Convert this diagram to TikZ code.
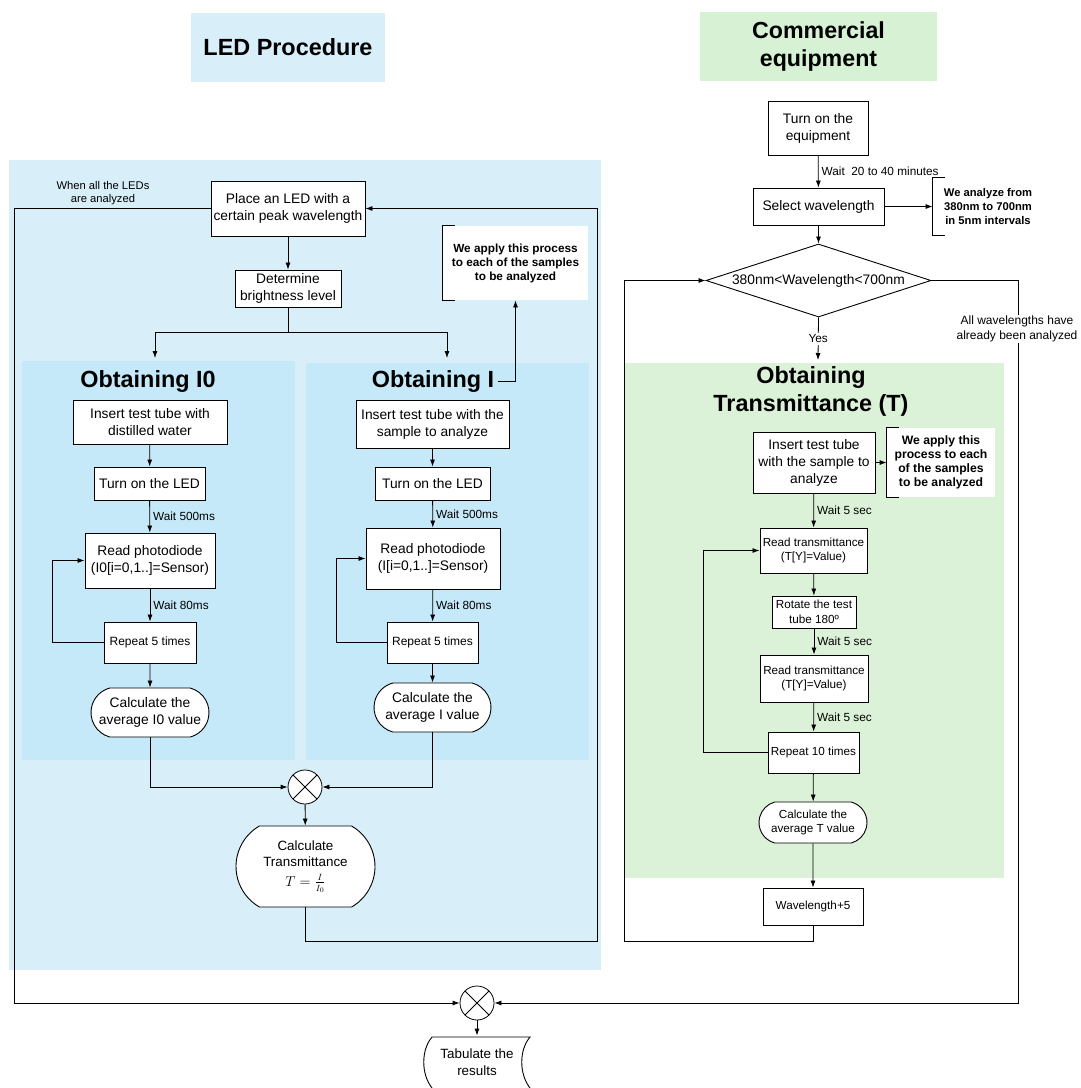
\documentclass[tikz,border=0pt]{standalone}
\usepackage{fontspec}
\setmainfont{Liberation Sans}
\usetikzlibrary{shapes.geometric,shapes.misc,arrows.meta}
\definecolor{ledbg}{RGB}{216,238,249}
\definecolor{ledin}{RGB}{198,233,249}
\definecolor{grnbg}{RGB}{220,242,216}
\definecolor{grntit}{RGB}{214,241,211}
\newcommand{\fsz}[2]{\fontsize{#1}{#2}\selectfont}
\begin{document}
\begin{tikzpicture}[x=1pt,y=-1pt,>={Latex[length=7pt,width=5pt]},line width=0.8pt,
    box/.style={draw,fill=white,align=center,inner sep=1pt,line width=0.9pt,font=\fsz{13.8}{17}},
    small/.style={font=\fsz{11.7}{14.5}},
    term/.style={box,rounded rectangle,rounded rectangle arc length=150},
    wait/.style={right,inner sep=3pt,font=\fsz{11.8}{13}},
    note/.style={fill=white,align=center,inner sep=1pt,font=\bfseries\fsz{11.8}{14}},
    title/.style={align=center,font=\bfseries\fsz{23.4}{28}},
    mix/.style={draw,circle,minimum size=34pt,inner sep=0pt,fill=white,
      path picture={\draw (path picture bounding box.north west) -- (path picture bounding box.south east)
        (path picture bounding box.north east) -- (path picture bounding box.south west);}}]
  \useasboundingbox (0,0) rectangle (1080,1088);
  % backgrounds
  \fill[ledbg] (9,160) rectangle (601,970);
  \fill[ledin] (22,361) rectangle (295,760);
  \fill[ledin] (306,363) rectangle (589,760);
  \fill[grnbg] (625,363) rectangle (1004,878);
  \node[title,fill=ledbg,minimum width=194pt,minimum height=69pt] (titLED) at (288,47.5) {LED Procedure};
  \node[title,fill=grntit,minimum width=237pt,minimum height=69pt,font=\bfseries\fsz{23.2}{28}] (titCom) at (818.5,46.5) {Commercial\\equipment};

  % results
  \node[mix] (ox2) at (477,1003) {};
  \node[align=center,inner sep=0pt,minimum width=105pt,minimum height=52pt,font=\fsz{13.4}{17}] (tab) at (477,1062) {Tabulate the\\results};
  \draw[line width=0.9pt] (432,1088) .. controls (421,1074) and (421,1050) .. (432,1037) -- (530,1037)
    .. controls (519,1050) and (519,1074) .. (530,1088);
  \draw[->] (ox2) -- (tab.north);

  % LED procedure
  \node[box,minimum width=154pt,minimum height=55pt] (place) at (288,208.5) {Place an LED with a\\certain peak wavelength};
  \node[box,minimum width=106pt,minimum height=37pt] (det) at (288,288.5) {Determine\\brightness level};
  \coordinate (brL) at (155,358);
  \coordinate (brR) at (447,358);
  \node[note,minimum width=145pt,minimum height=74pt] (noteA) at (515.5,263) {We apply this process\\to each of the samples\\to be analyzed};
  \draw ([xshift=12pt]noteA.north west) -- (noteA.north west) -- (noteA.south west) -- ([xshift=12pt]noteA.south west);

  \node[title] (titI0) at (148,381) {Obtaining I0};
  \node[box,minimum width=154pt,minimum height=44pt] (ins0) at (150,422) {Insert test tube with\\distilled water};
  \node[box,minimum width=111pt,minimum height=33pt] (led0) at (149.5,483.5) {Turn on the LED};
  \node[box,minimum width=130pt,minimum height=55pt] (read0) at (150,560.5) {Read photodiode\\(I0[i=0,1..]=Sensor)};
  \node[box,minimum width=92pt,minimum height=41pt,font=\fsz{12}{14}] (rep0) at (150,642.5) {Repeat 5 times};
  \node[term,minimum width=120pt,minimum height=49pt] (avg0) at (150,712.5) {Calculate the\\average I0 value};

  \node[title] (titI) at (433,381) {Obtaining I};
  \node[box,minimum width=153pt,minimum height=48pt] (ins1) at (432.5,424) {Insert test tube with the\\sample to analyze};
  \node[box,minimum width=115pt,minimum height=33pt] (led1) at (432.5,483.5) {Turn on the LED};
  \node[box,minimum width=134pt,minimum height=61pt] (read1) at (433,558.5) {Read photodiode\\(I[i=0,1..]=Sensor)};
  \node[box,minimum width=91pt,minimum height=41pt,font=\fsz{12}{14}] (rep1) at (432.5,642.5) {Repeat 5 times};
  \node[term,minimum width=119pt,minimum height=49pt] (avg1) at (432.5,707.5) {Calculate the\\average I value};

  \node[mix] (ox1) at (305,787) {};
  \node[term,rounded rectangle arc length=120,minimum width=141pt,minimum height=81pt,font=\fsz{13.4}{16}] (calcT) at (305.5,866.5) {Calculate\\Transmittance\\[4pt]$T=\frac{I}{I_0}$};
  \coordinate (cR) at (597,941);
  \coordinate (cL) at (14,1003);

  \draw[->] (place) -- (det);
  \draw[->] (det.south) -- ++(0,25) -| (brL);
  \draw[->] (det.south) -- ++(0,25) -| (brR);
  \draw[->] (titI.east) -| (noteA.south);
  \draw[->] (ins0) -- (led0);
  \draw[->] (led0) -- (read0) node[wait,midway] {Wait 500ms};
  \draw[->] (read0) -- (rep0) node[wait,midway] {Wait 80ms};
  \draw[->] (rep0) -- (avg0);
  \draw[->] (rep0.west) -- ++(-51,0) |- (read0.west);
  \draw[->] (ins1) -- (led1);
  \draw[->] (led1) -- (read1) node[wait,midway] {Wait 500ms};
  \draw[->] (read1) -- (rep1) node[wait,midway] {Wait 80ms};
  \draw[->] (rep1) -- (avg1);
  \draw[->] (rep1.west) -- ++(-50,0) |- (read1.west);
  \draw[->] (avg0.south) |- (ox1.west);
  \draw[->] (avg1.south) |- (ox1.east);
  \draw[->] (ox1) -- (calcT);
  \draw[->] (calcT.south) |- (cR) |- (place.east);
  \draw[->] (place.west) -| (cL) -- (ox2.west);
  \node[align=center,font=\fsz{11.2}{13}] (lblLED) at (103,193) {When all the LEDs\\are analyzed};

  % commercial equipment
  \node[box,minimum width=100pt,minimum height=54pt] (turnE) at (818,128) {Turn on the\\equipment};
  \node[box,minimum width=131pt,minimum height=37pt] (selW) at (818.5,206.5) {Select wavelength};
  \node[note,fill=none,minimum width=110pt,minimum height=57pt,font=\bfseries\fsz{11.2}{14}] (noteW) at (988,206.5) {We analyze from\\380nm to 700nm\\in 5nm intervals};
  \draw ([xshift=12pt]noteW.north west) -- (noteW.north west) -- (noteW.south west) -- ([xshift=12pt]noteW.south west);
  \node[box,diamond,aspect=3,minimum width=225pt,minimum height=73pt,inner sep=0pt] (dia) at (818.5,280.5) {380nm<Wavelength<700nm};
  \coordinate (grnTop) at (818,360);
  \node[title] (titT) at (811,391) {Obtaining\\Transmittance (T)};
  \node[box,minimum width=122pt,minimum height=61pt] (insT) at (814,462.5) {Insert test tube\\with the sample to\\analyze};
  \node[note,minimum width=108pt,minimum height=69pt,font=\bfseries\fsz{12.2}{14}] (noteT) at (941,462.5) {We apply this\\process to each\\of the samples\\to be analyzed};
  \draw ([xshift=12pt]noteT.north west) -- (noteT.north west) -- (noteT.south west) -- ([xshift=12pt]noteT.south west);
  \node[box,small,minimum width=107pt,minimum height=45pt] (readT1) at (813.5,550.5) {Read transmittance\\(T[Y]=Value)};
  \node[box,small,minimum width=84pt,minimum height=32pt] (rot) at (814,612) {Rotate the test\\tube 180º};
  \node[box,small,minimum width=108pt,minimum height=47pt] (readT2) at (814,678.5) {Read transmittance\\(T[Y]=Value)};
  \node[box,small,minimum width=91pt,minimum height=41pt] (rep10) at (813.5,752.5) {Repeat 10 times};
  \node[term,small,minimum width=110pt,minimum height=41pt] (avgT) at (813,822.5) {Calculate the\\average T value};
  \node[box,small,minimum width=100pt,minimum height=37pt] (wl5) at (813,906.5) {Wavelength+5};
  \coordinate (cW) at (624,941);
  \coordinate (cE) at (1018,1003);

  \draw[->] (turnE) -- (selW) node[wait,midway] {Wait\ \ 20 to 40 minutes};
  \draw[->] (selW) -- (noteW.west);
  \draw[->] (selW) -- (dia);
  \draw[->] (dia.south) -- (grnTop) node[midway,fill=white,inner sep=2pt,font=\fsz{11.8}{13}] (yes) {Yes};
  \draw[->] (dia.east) -| (cE) -- (ox2.east);
  \node[align=center,fill=white,inner sep=1pt,font=\fsz{12}{14.5}] (lblAll) at (1017,329) {All wavelengths have\\already been analyzed};
  \draw[->] (insT) -- (noteT);
  \draw[->] (insT) -- (readT1) node[wait,midway] {Wait 5 sec};
  \draw[->] (readT1) -- (rot);
  \draw[->] (rot) -- (readT2) node[wait,midway] {Wait 5 sec};
  \draw[->] (readT2) -- (rep10) node[wait,midway] {Wait 5 sec};
  \draw[->] (rep10) -- (avgT);
  \draw[->] (avgT) -- (wl5);
  \draw[->] (rep10.west) -- ++(-64,0) |- (readT1.west);
  \draw[->] (wl5.south) |- (cW) |- (dia.west);
\end{tikzpicture}
\end{document}
